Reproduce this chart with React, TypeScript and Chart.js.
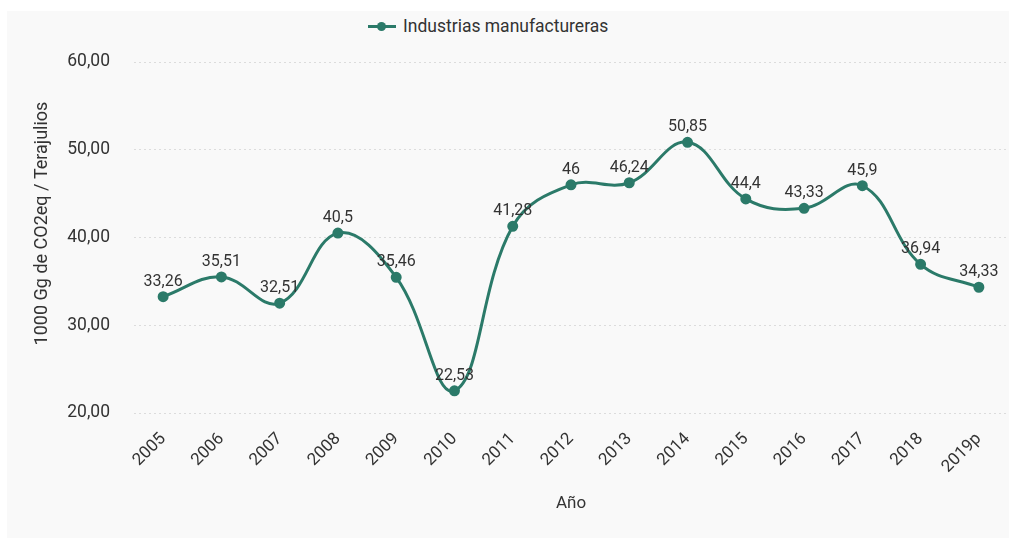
import { useEffect, useRef } from 'react'
import Chart from 'chart.js/auto'

const YEARS = ['2005', '2006', '2007', '2008', '2009', '2010', '2011', '2012', '2013', '2014', '2015', '2016', '2017', '2018', '2019p']
const MANUFACTURA = [33.26, 35.51, 32.51, 40.5, 35.46, 22.53, 41.28, 46, 46.24, 50.85, 44.4, 43.33, 45.9, 36.94, 34.33]
const SERIES_NAME = 'Industrias manufactureras'
const Y_TITLE = '1000 Gg de CO2eq / Terajulios'
const X_TITLE = 'Año'

const LINE_COLOR = '#2b7a69'
const TEXT_COLOR = '#333333'
const FONT = 'Roboto, "Noto Sans", sans-serif'

const commaNumber = (v: number) => String(v).replace('.', ',')

// draws the value above each point
const valueLabels = {
  id: 'valueLabels',
  afterDatasetsDraw(chart: Chart) {
    const { ctx } = chart
    const meta = chart.getDatasetMeta(0)
    const values = chart.data.datasets[0].data as number[]
    ctx.save()
    ctx.font = `16px ${FONT}`
    ctx.fillStyle = TEXT_COLOR
    ctx.textAlign = 'center'
    ctx.textBaseline = 'alphabetic'
    meta.data.forEach((pt, i) => {
      ctx.fillText(commaNumber(values[i]), pt.x, pt.y - 11)
    })
    ctx.restore()
  },
}

// y title sits a bit above the middle of the axis in the original
const yTitle = {
  id: 'yTitle',
  afterDraw(chart: Chart) {
    const { ctx, chartArea } = chart
    ctx.save()
    ctx.font = `18px ${FONT}`
    ctx.fillStyle = TEXT_COLOR
    ctx.textAlign = 'center'
    ctx.textBaseline = 'middle'
    ctx.translate(35, (chartArea.top + chartArea.bottom) / 2 - 14)
    ctx.rotate(-Math.PI / 2)
    ctx.fillText(Y_TITLE, 0, 0)
    ctx.restore()
  },
}

export default function App() {
  const canvasRef = useRef<HTMLCanvasElement>(null)

  useEffect(() => {
    if (!canvasRef.current) return
    const chart = new Chart(canvasRef.current, {
      type: 'line',
      data: {
        labels: YEARS,
        datasets: [
          {
            label: SERIES_NAME,
            data: MANUFACTURA,
            borderColor: LINE_COLOR,
            backgroundColor: LINE_COLOR,
            borderWidth: 3,
            pointRadius: 4,
            pointHoverRadius: 4,
            tension: 0.4,
            fill: false,
          },
        ],
      },
      options: {
        animation: false,
        responsive: true,
        maintainAspectRatio: false,
        layout: { padding: { top: 51, right: 1, left: 0, bottom: 0 } },
        plugins: {
          legend: { display: false },
          tooltip: { enabled: false },
        },
        scales: {
          x: {
            offset: true,
            grid: { display: false, drawTicks: false },
            border: { display: false },
            ticks: {
              color: TEXT_COLOR,
              font: { family: FONT, size: 17 },
              minRotation: 45,
              maxRotation: 45,
              padding: 16,
            },
            title: {
              display: true,
              text: X_TITLE,
              color: TEXT_COLOR,
              font: { family: FONT, size: 17 },
              padding: { top: 4, bottom: 24 },
            },
            afterFit: (s) => {
              s.height = 125
            },
          },
          y: {
            min: 20,
            max: 60,
            grid: { color: '#dcdcdc', lineWidth: 1, drawTicks: false },
            border: { display: false, dash: [2, 3] },
            ticks: {
              stepSize: 10,
              color: TEXT_COLOR,
              font: { family: FONT, size: 17.5 },
              padding: 24,
              callback: (v) => Number(v).toFixed(2).replace('.', ','),
            },
            title: { display: false },
            afterFit: (s) => {
              s.width = 127
            },
          },
        },
      },
      plugins: [valueLabels, yTitle],
    })
    return () => chart.destroy()
  }, [])

  return (
    <div style={{ position: 'fixed', inset: 0, background: '#ffffff', overflow: 'hidden' }}>
      <div
        style={{
          position: 'absolute',
          left: 7,
          top: 11,
          width: 1008,
          height: 527,
          background: '#f9f9f9',
        }}
      >
        <div
          style={{
            position: 'absolute',
            left: 361,
            top: 5,
            height: 20,
            display: 'flex',
            alignItems: 'center',
            fontFamily: FONT,
            fontSize: 17.5,
            color: TEXT_COLOR,
          }}
        >
          <span style={{ position: 'relative', width: 28, height: 10, marginRight: 7 }}>
            <span
              style={{ position: 'absolute', left: 0, right: 0, top: 4, height: 3, background: LINE_COLOR }}
            />
            <span
              style={{
                position: 'absolute',
                left: 9,
                top: 1,
                width: 9,
                height: 9,
                borderRadius: '50%',
                background: LINE_COLOR,
              }}
            />
          </span>
          {SERIES_NAME}
        </div>
        <div style={{ position: 'absolute', inset: 0 }}>
          <canvas ref={canvasRef} />
        </div>
      </div>
    </div>
  )
}
